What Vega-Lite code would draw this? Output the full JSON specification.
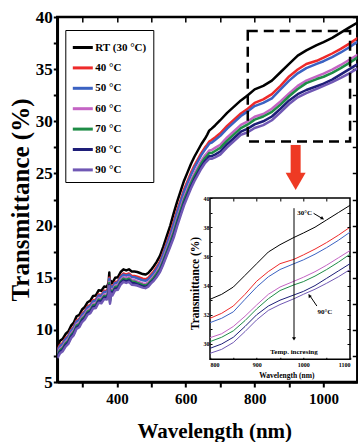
{
  "$schema": "https://vega.github.io/schema/vega-lite/v6.json",
  "width": 300,
  "height": 365,
  "autosize": {"type": "none"},
  "padding": {"left": 57.3, "top": 17, "right": 0.7, "bottom": 60},
  "config": {
    "font": "Liberation Serif",
    "view": {"stroke": "black", "strokeWidth": 2.5},
    "axis": {"grid": false, "domainColor": "black", "tickColor": "black", "labelColor": "black", "titleColor": "black", "labelFontWeight": "bold", "titleFontWeight": "bold", "labelFont": "Liberation Serif", "titleFont": "Liberation Serif"}
  },
  "datasets": {
    "curves": [
      {"wl":227,"RT (30 °C)":8.5,"40 °C":8.1,"50 °C":8.0,"60 °C":7.75,"70 °C":7.6,"80 °C":7.45,"90 °C":7.3},
      {"wl":235,"RT (30 °C)":8.95,"40 °C":8.55,"50 °C":8.45,"60 °C":8.2,"70 °C":8.05,"80 °C":7.9,"90 °C":7.75},
      {"wl":243,"RT (30 °C)":9.15,"40 °C":8.75,"50 °C":8.65,"60 °C":8.4,"70 °C":8.25,"80 °C":8.1,"90 °C":7.95},
      {"wl":251,"RT (30 °C)":9.6,"40 °C":9.2,"50 °C":9.1,"60 °C":8.85,"70 °C":8.7,"80 °C":8.55,"90 °C":8.4},
      {"wl":259,"RT (30 °C)":9.85,"40 °C":9.45,"50 °C":9.35,"60 °C":9.1,"70 °C":8.95,"80 °C":8.8,"90 °C":8.65},
      {"wl":267,"RT (30 °C)":10.4,"40 °C":10.0,"50 °C":9.9,"60 °C":9.65,"70 °C":9.5,"80 °C":9.35,"90 °C":9.2},
      {"wl":275,"RT (30 °C)":10.7,"40 °C":10.3,"50 °C":10.2,"60 °C":9.95,"70 °C":9.8,"80 °C":9.65,"90 °C":9.5},
      {"wl":283,"RT (30 °C)":11.3,"40 °C":10.9,"50 °C":10.8,"60 °C":10.55,"70 °C":10.4,"80 °C":10.25,"90 °C":10.1},
      {"wl":291,"RT (30 °C)":11.45,"40 °C":11.05,"50 °C":10.95,"60 °C":10.7,"70 °C":10.55,"80 °C":10.4,"90 °C":10.25},
      {"wl":299,"RT (30 °C)":11.95,"40 °C":11.55,"50 °C":11.45,"60 °C":11.2,"70 °C":11.05,"80 °C":10.9,"90 °C":10.75},
      {"wl":307,"RT (30 °C)":12.2,"40 °C":11.8,"50 °C":11.7,"60 °C":11.45,"70 °C":11.3,"80 °C":11.15,"90 °C":11.0},
      {"wl":315,"RT (30 °C)":12.65,"40 °C":12.25,"50 °C":12.15,"60 °C":11.9,"70 °C":11.75,"80 °C":11.6,"90 °C":11.45},
      {"wl":323,"RT (30 °C)":12.8,"40 °C":12.4,"50 °C":12.3,"60 °C":12.05,"70 °C":11.9,"80 °C":11.75,"90 °C":11.6},
      {"wl":331,"RT (30 °C)":13.25,"40 °C":12.85,"50 °C":12.75,"60 °C":12.5,"70 °C":12.35,"80 °C":12.2,"90 °C":12.05},
      {"wl":339,"RT (30 °C)":13.3,"40 °C":12.9,"50 °C":12.8,"60 °C":12.55,"70 °C":12.4,"80 °C":12.25,"90 °C":12.1},
      {"wl":347,"RT (30 °C)":13.8,"40 °C":13.4,"50 °C":13.3,"60 °C":13.05,"70 °C":12.9,"80 °C":12.75,"90 °C":12.6},
      {"wl":355,"RT (30 °C)":13.75,"40 °C":13.35,"50 °C":13.25,"60 °C":13.0,"70 °C":12.85,"80 °C":12.7,"90 °C":12.55},
      {"wl":363,"RT (30 °C)":14.15,"40 °C":13.75,"50 °C":13.65,"60 °C":13.4,"70 °C":13.25,"80 °C":13.1,"90 °C":12.95},
      {"wl":371,"RT (30 °C)":14.1,"40 °C":13.7,"50 °C":13.6,"60 °C":13.35,"70 °C":13.2,"80 °C":13.05,"90 °C":12.9},
      {"wl":376,"RT (30 °C)":14.55,"40 °C":14.15,"50 °C":14.05,"60 °C":13.8,"70 °C":13.65,"80 °C":13.5,"90 °C":13.35},
      {"wl":378,"RT (30 °C)":15.5,"40 °C":15.0,"50 °C":14.9,"60 °C":14.6,"70 °C":14.5,"80 °C":14.3,"90 °C":14.2},
      {"wl":380,"RT (30 °C)":13.7,"40 °C":13.3,"50 °C":13.2,"60 °C":12.95,"70 °C":12.8,"80 °C":12.65,"90 °C":12.5},
      {"wl":382,"RT (30 °C)":14.7,"40 °C":14.3,"50 °C":14.2,"60 °C":13.95,"70 °C":13.8,"80 °C":13.65,"90 °C":13.5},
      {"wl":387,"RT (30 °C)":14.5,"40 °C":14.1,"50 °C":14.0,"60 °C":13.75,"70 °C":13.6,"80 °C":13.45,"90 °C":13.3},
      {"wl":395,"RT (30 °C)":15.0,"40 °C":14.6,"50 °C":14.5,"60 °C":14.25,"70 °C":14.1,"80 °C":13.95,"90 °C":13.8},
      {"wl":403,"RT (30 °C)":15.05,"40 °C":14.65,"50 °C":14.55,"60 °C":14.3,"70 °C":14.15,"80 °C":14.0,"90 °C":13.85},
      {"wl":411,"RT (30 °C)":15.55,"40 °C":15.15,"50 °C":15.05,"60 °C":14.8,"70 °C":14.65,"80 °C":14.5,"90 °C":14.35},
      {"wl":419,"RT (30 °C)":15.8,"40 °C":15.4,"50 °C":15.3,"60 °C":15.05,"70 °C":14.9,"80 °C":14.75,"90 °C":14.6},
      {"wl":427,"RT (30 °C)":15.7,"40 °C":15.3,"50 °C":15.2,"60 °C":14.95,"70 °C":14.8,"80 °C":14.65,"90 °C":14.5},
      {"wl":435,"RT (30 °C)":15.8,"40 °C":15.4,"50 °C":15.3,"60 °C":15.05,"70 °C":14.9,"80 °C":14.75,"90 °C":14.6},
      {"wl":443,"RT (30 °C)":15.6,"40 °C":15.18,"50 °C":15.07,"60 °C":14.8,"70 °C":14.64,"80 °C":14.48,"90 °C":14.33},
      {"wl":451,"RT (30 °C)":15.6,"40 °C":15.17,"50 °C":15.05,"60 °C":14.78,"70 °C":14.62,"80 °C":14.46,"90 °C":14.31},
      {"wl":459,"RT (30 °C)":15.55,"40 °C":15.1,"50 °C":14.95,"60 °C":14.65,"70 °C":14.5,"80 °C":14.35,"90 °C":14.25},
      {"wl":467,"RT (30 °C)":15.45,"40 °C":15.0,"50 °C":14.85,"60 °C":14.55,"70 °C":14.4,"80 °C":14.25,"90 °C":14.15},
      {"wl":475,"RT (30 °C)":15.35,"40 °C":14.9,"50 °C":14.75,"60 °C":14.45,"70 °C":14.3,"80 °C":14.15,"90 °C":14.05},
      {"wl":483,"RT (30 °C)":15.3,"40 °C":14.85,"50 °C":14.7,"60 °C":14.4,"70 °C":14.25,"80 °C":14.1,"90 °C":14.0},
      {"wl":491,"RT (30 °C)":15.45,"40 °C":15.0,"50 °C":14.85,"60 °C":14.55,"70 °C":14.4,"80 °C":14.25,"90 °C":14.15},
      {"wl":499,"RT (30 °C)":15.75,"40 °C":15.3,"50 °C":15.15,"60 °C":14.85,"70 °C":14.7,"80 °C":14.55,"90 °C":14.45},
      {"wl":507,"RT (30 °C)":16.1,"40 °C":15.6,"50 °C":15.45,"60 °C":15.15,"70 °C":15.0,"80 °C":14.8,"90 °C":14.7},
      {"wl":515,"RT (30 °C)":16.5,"40 °C":16.0,"50 °C":15.85,"60 °C":15.5,"70 °C":15.35,"80 °C":15.15,"90 °C":15.05},
      {"wl":525,"RT (30 °C)":17.1,"40 °C":16.55,"50 °C":16.4,"60 °C":16.05,"70 °C":15.85,"80 °C":15.65,"90 °C":15.55},
      {"wl":535,"RT (30 °C)":18.0,"40 °C":17.4,"50 °C":17.25,"60 °C":16.85,"70 °C":16.65,"80 °C":16.45,"90 °C":16.3},
      {"wl":545,"RT (30 °C)":19.0,"40 °C":18.35,"50 °C":18.2,"60 °C":17.75,"70 °C":17.55,"80 °C":17.3,"90 °C":17.15},
      {"wl":555,"RT (30 °C)":20.0,"40 °C":19.3,"50 °C":19.1,"60 °C":18.65,"70 °C":18.4,"80 °C":18.15,"90 °C":18.0},
      {"wl":565,"RT (30 °C)":21.2,"40 °C":20.35,"50 °C":20.15,"60 °C":19.6,"70 °C":19.35,"80 °C":19.05,"90 °C":18.85},
      {"wl":575,"RT (30 °C)":22.3,"40 °C":21.45,"50 °C":21.25,"60 °C":20.7,"70 °C":20.45,"80 °C":20.15,"90 °C":19.95},
      {"wl":585,"RT (30 °C)":23.3,"40 °C":22.45,"50 °C":22.25,"60 °C":21.7,"70 °C":21.45,"80 °C":21.15,"90 °C":20.95},
      {"wl":595,"RT (30 °C)":24.3,"40 °C":23.45,"50 °C":23.25,"60 °C":22.7,"70 °C":22.45,"80 °C":22.15,"90 °C":21.95},
      {"wl":605,"RT (30 °C)":25.1,"40 °C":24.25,"50 °C":24.05,"60 °C":23.5,"70 °C":23.25,"80 °C":22.95,"90 °C":22.75},
      {"wl":615,"RT (30 °C)":25.9,"40 °C":25.05,"50 °C":24.85,"60 °C":24.3,"70 °C":24.05,"80 °C":23.75,"90 °C":23.55},
      {"wl":625,"RT (30 °C)":26.6,"40 °C":25.75,"50 °C":25.55,"60 °C":25.0,"70 °C":24.75,"80 °C":24.45,"90 °C":24.25},
      {"wl":635,"RT (30 °C)":27.2,"40 °C":26.35,"50 °C":26.15,"60 °C":25.6,"70 °C":25.35,"80 °C":25.05,"90 °C":24.85},
      {"wl":645,"RT (30 °C)":27.8,"40 °C":26.95,"50 °C":26.75,"60 °C":26.2,"70 °C":25.95,"80 °C":25.65,"90 °C":25.45},
      {"wl":655,"RT (30 °C)":28.3,"40 °C":27.45,"50 °C":27.25,"60 °C":26.7,"70 °C":26.45,"80 °C":26.15,"90 °C":25.95},
      {"wl":662,"RT (30 °C)":28.7,"40 °C":27.75,"50 °C":27.55,"60 °C":26.95,"70 °C":26.7,"80 °C":26.4,"90 °C":26.2},
      {"wl":668,"RT (30 °C)":29.1,"40 °C":28.05,"50 °C":27.85,"60 °C":27.2,"70 °C":26.95,"80 °C":26.65,"90 °C":26.4},
      {"wl":675,"RT (30 °C)":29.3,"40 °C":28.2,"50 °C":27.95,"60 °C":27.25,"70 °C":26.95,"80 °C":26.65,"90 °C":26.4},
      {"wl":685,"RT (30 °C)":29.6,"40 °C":28.45,"50 °C":28.2,"60 °C":27.45,"70 °C":27.15,"80 °C":26.8,"90 °C":26.55},
      {"wl":700,"RT (30 °C)":30.1,"40 °C":28.85,"50 °C":28.6,"60 °C":27.75,"70 °C":27.45,"80 °C":27.1,"90 °C":26.8},
      {"wl":720,"RT (30 °C)":30.8,"40 °C":29.55,"50 °C":29.3,"60 °C":28.45,"70 °C":28.15,"80 °C":27.8,"90 °C":27.5},
      {"wl":740,"RT (30 °C)":31.4,"40 °C":30.15,"50 °C":29.9,"60 °C":29.05,"70 °C":28.75,"80 °C":28.4,"90 °C":28.1},
      {"wl":760,"RT (30 °C)":32.0,"40 °C":30.75,"50 °C":30.5,"60 °C":29.65,"70 °C":29.35,"80 °C":29.0,"90 °C":28.7},
      {"wl":780,"RT (30 °C)":32.5,"40 °C":31.2,"50 °C":30.95,"60 °C":30.0,"70 °C":29.7,"80 °C":29.3,"90 °C":28.95},
      {"wl":800,"RT (30 °C)":33.06,"40 °C":31.76,"50 °C":31.46,"60 °C":30.43,"70 °C":30.16,"80 °C":29.7,"90 °C":29.36},
      {"wl":825,"RT (30 °C)":33.4,"40 °C":32.1,"50 °C":31.76,"60 °C":30.7,"70 °C":30.46,"80 °C":30.0,"90 °C":29.63},
      {"wl":850,"RT (30 °C)":33.9,"40 °C":32.6,"50 °C":32.2,"60 °C":31.2,"70 °C":30.9,"80 °C":30.46,"90 °C":30.1},
      {"wl":875,"RT (30 °C)":34.7,"40 °C":33.4,"50 °C":33.06,"60 °C":31.9,"70 °C":31.6,"80 °C":31.2,"90 °C":30.85},
      {"wl":900,"RT (30 °C)":35.5,"40 °C":34.3,"50 °C":33.9,"60 °C":32.67,"70 °C":32.4,"80 °C":32.0,"90 °C":31.65},
      {"wl":925,"RT (30 °C)":36.3,"40 °C":34.96,"50 °C":34.6,"60 °C":33.4,"70 °C":33.1,"80 °C":32.6,"90 °C":32.3},
      {"wl":950,"RT (30 °C)":36.8,"40 °C":35.5,"50 °C":35.1,"60 °C":33.9,"70 °C":33.66,"80 °C":33.0,"90 °C":32.7},
      {"wl":980,"RT (30 °C)":37.3,"40 °C":35.8,"50 °C":35.5,"60 °C":34.3,"70 °C":34.05,"80 °C":33.36,"90 °C":33.1},
      {"wl":1000,"RT (30 °C)":37.6,"40 °C":36.1,"50 °C":35.76,"60 °C":34.57,"70 °C":34.27,"80 °C":33.6,"90 °C":33.4},
      {"wl":1025,"RT (30 °C)":38.0,"40 °C":36.5,"50 °C":36.15,"60 °C":34.95,"70 °C":34.65,"80 °C":34.0,"90 °C":33.75},
      {"wl":1050,"RT (30 °C)":38.5,"40 °C":36.95,"50 °C":36.6,"60 °C":35.4,"70 °C":35.1,"80 °C":34.5,"90 °C":34.16},
      {"wl":1075,"RT (30 °C)":39.0,"40 °C":37.45,"50 °C":37.1,"60 °C":35.9,"70 °C":35.6,"80 °C":35.0,"90 °C":34.6},
      {"wl":1100,"RT (30 °C)":39.5,"40 °C":38.0,"50 °C":37.66,"60 °C":36.4,"70 °C":36.15,"80 °C":35.5,"90 °C":35.1}
    ]
  },
  "layer": [
    {
      "layer": [
        {
          "data": {"name": "curves"},
          "transform": [{"fold": ["RT (30 °C)", "40 °C", "50 °C", "60 °C", "70 °C", "80 °C", "90 °C"], "as": ["series", "T"]}],
          "mark": {"type": "line", "strokeWidth": 2.5, "clip": true, "strokeJoin": "round"},
          "encoding": {
            "x": {"field": "wl", "type": "quantitative", "scale": {"domain": [227, 1098], "nice": false, "zero": false},
              "axis": {"orient": "bottom", "values": [300, 400, 500, 600, 700, 800, 900, 1000], "format": "d", "labelExpr": "datum.value % 200 === 0 ? datum.label : ''", "labelFontSize": 15, "tickSize": 5, "tickWidth": 2, "domainWidth": 2.5, "labelPadding": 4, "title": "Wavelength (nm)", "titleFontSize": 21, "titleX": 157, "titleY": 55, "titleBaseline": "alphabetic"}},
            "y": {"field": "T", "type": "quantitative", "scale": {"domain": [5, 40], "nice": false, "zero": false},
              "axis": {"orient": "left", "values": [5, 7.5, 10, 12.5, 15, 17.5, 20, 22.5, 25, 27.5, 30, 32.5, 35, 37.5, 40], "labelExpr": "datum.value % 5 === 0 ? datum.label : ''", "labelFontSize": 17, "tickSize": 4, "tickWidth": 2, "domainWidth": 2.5, "labelPadding": 1, "title": "Transmittance (%)", "titleFontSize": 25, "titleX": -37, "titleY": 182.5, "titleAngle": 270, "titleBaseline": "middle", "titleAlign": "center"}},
            "color": {"field": "series", "type": "nominal",
              "scale": {"domain": ["RT (30 °C)", "40 °C", "50 °C", "60 °C", "70 °C", "80 °C", "90 °C"], "range": ["#000000", "#ee2a2a", "#3b62c2", "#c464c4", "#1e8c46", "#1e1e78", "#7058b4"]},
              "legend": {"orient": "none", "legendX": 8, "legendY": 13, "title": null, "strokeColor": "black", "fillColor": "white", "padding": 6, "symbolType": "stroke", "symbolSize": 400, "symbolStrokeWidth": 3, "labelFont": "Liberation Serif", "labelFontWeight": "bold", "labelFontSize": 11, "labelOffset": 1, "rowPadding": 2.4, "labelColor": "black"}}
          }
        },
        {
          "data": {"values": [{"x1": 780, "x2": 1077, "y1": 28.05, "y2": 38.66}]},
          "mark": {"type": "rect", "fillOpacity": 0, "stroke": "black", "strokeWidth": 2.5, "strokeDash": [10, 6]},
          "encoding": {
            "x": {"field": "x1", "type": "quantitative", "axis": {"orient": "top", "values": [300, 400, 500, 600, 700, 800, 900, 1000], "labels": false, "domain": false, "title": null, "offset": -5, "tickSize": 5, "tickWidth": 1.5}},
            "x2": {"field": "x2"},
            "y": {"field": "y1", "type": "quantitative", "axis": {"orient": "right", "values": [5, 7.5, 10, 12.5, 15, 17.5, 20, 22.5, 25, 27.5, 30, 32.5, 35, 37.5, 40], "labels": false, "domain": false, "title": null, "offset": -5, "tickSize": 5, "tickWidth": 1.5}},
            "y2": {"field": "y2"}
          }
        },
        {
          "data": {"values": [{"wl": 919, "T": 27.73, "T2": 24.66}]},
          "mark": {"type": "rule", "strokeWidth": 10, "color": "#ee3a24"},
          "encoding": {
            "x": {"field": "wl", "type": "quantitative", "axis": null},
            "y": {"field": "T", "type": "quantitative", "axis": null},
            "y2": {"field": "T2"}
          }
        },
        {
          "data": {"values": [{"wl": 919, "T": 24.23}]},
          "mark": {"type": "point", "shape": "triangle-down", "size": 400, "filled": true, "opacity": 1, "color": "#ee3a24"},
          "encoding": {
            "x": {"field": "wl", "type": "quantitative", "axis": null},
            "y": {"field": "T", "type": "quantitative", "axis": null}
          }
        }
      ],
      "resolve": {"axis": {"x": "independent", "y": "independent"}}
    },
    {
      "layer": [
        {
          "data": {"values": [{"x1": 800, "x2": 1100, "y1": 28.95, "y2": 40}]},
          "mark": {"type": "rect", "fill": "white", "stroke": "black", "strokeWidth": 1.5},
          "encoding": {
            "x": {"field": "x1", "type": "quantitative", "scale": {"domain": [800, 1100], "range": [152.7, 292.7], "nice": false, "zero": false},
              "axis": {"orient": "top", "values": [850, 900, 950, 1000, 1050], "labels": false, "domain": false, "title": null, "offset": -184, "tickSize": 3, "tickWidth": 1, "zindex": 1}},
            "x2": {"field": "x2"},
            "y": {"field": "y1", "type": "quantitative", "scale": {"domain": [28.95, 40], "range": [342.3, 181], "nice": false, "zero": false},
              "axis": {"orient": "right", "values": [30, 31, 32, 33, 34, 35, 36, 37, 38, 39], "labels": false, "domain": false, "title": null, "offset": -10.3, "tickSize": 3, "tickWidth": 1, "zindex": 1}},
            "y2": {"field": "y2"}
          }
        },
        {
          "data": {"name": "curves"},
          "transform": [{"filter": "datum.wl >= 800"}, {"fold": ["RT (30 °C)", "40 °C", "50 °C", "60 °C", "70 °C", "80 °C", "90 °C"], "as": ["series", "T"]}],
          "mark": {"type": "line", "strokeWidth": 1},
          "encoding": {
            "x": {"field": "wl", "type": "quantitative",
              "axis": {"orient": "bottom", "offset": -24.7, "values": [800, 850, 900, 950, 1000, 1050, 1100], "format": "d", "labelExpr": "datum.value % 100 === 0 ? datum.label : ''", "labelFontSize": 6, "tickSize": 2, "tickWidth": 1, "domain": false, "labelPadding": 2, "title": "Wavelength (nm)", "titleFontSize": 7.5, "titleX": 229, "titleY": 17.7, "titleBaseline": "middle", "zindex": 1}},
            "y": {"field": "T", "type": "quantitative",
              "axis": {"orient": "left", "offset": -154.7, "values": [30, 31, 32, 33, 34, 35, 36, 37, 38, 39, 40], "labelExpr": "datum.value % 2 === 0 ? datum.label : ''", "labelFontSize": 6, "tickSize": 2, "tickWidth": 1, "domain": false, "labelPadding": 1, "title": "Transmittance (%)", "titleFontSize": 11.5, "titleX": -17, "titleY": 266, "titleAngle": 270, "titleBaseline": "middle", "titleAlign": "center", "zindex": 1}},
            "color": {"field": "series", "type": "nominal"}
          }
        },
        {
          "data": {"values": [{"wl": 1022, "T": 38.95, "wl2": 1043, "T2": 38.55}, {"wl": 1029, "T": 32.6, "wl2": 1012, "T2": 33.4}, {"wl": 980, "T": 39.3, "wl2": 980, "T2": 30.4}]},
          "mark": {"type": "rule", "strokeWidth": 1, "color": "black"},
          "encoding": {
            "x": {"field": "wl", "type": "quantitative", "axis": null},
            "x2": {"field": "wl2"},
            "y": {"field": "T", "type": "quantitative", "axis": null},
            "y2": {"field": "T2"}
          }
        },
        {
          "data": {"values": [{"wl": 980, "T": 30.35}]},
          "mark": {"type": "point", "shape": "triangle-down", "size": 16, "filled": true, "opacity": 1, "color": "black"},
          "encoding": {
            "x": {"field": "wl", "type": "quantitative", "axis": null},
            "y": {"field": "T", "type": "quantitative", "axis": null}
          }
        },
        {
          "data": {"values": [{"wl": 1041, "T": 38.6}]},
          "mark": {"type": "point", "shape": "triangle-right", "angle": 30, "size": 14, "filled": true, "opacity": 1, "color": "black"},
          "encoding": {
            "x": {"field": "wl", "type": "quantitative", "axis": null},
            "y": {"field": "T", "type": "quantitative", "axis": null}
          }
        },
        {
          "data": {"values": [{"wl": 1013, "T": 33.3}]},
          "mark": {"type": "point", "shape": "triangle-right", "angle": 236, "size": 14, "filled": true, "opacity": 1, "color": "black"},
          "encoding": {
            "x": {"field": "wl", "type": "quantitative", "axis": null},
            "y": {"field": "T", "type": "quantitative", "axis": null}
          }
        },
        {
          "data": {"values": [{"wl": 1003, "T": 39.0, "label": "30°C"}, {"wl": 1046, "T": 32.17, "label": "90°C"}, {"wl": 980, "T": 29.45, "label": "Temp. incresing"}]},
          "mark": {"type": "text", "font": "Liberation Serif", "fontWeight": "bold", "fontSize": 7, "align": "center", "baseline": "middle", "color": "black"},
          "encoding": {
            "x": {"field": "wl", "type": "quantitative", "axis": null},
            "y": {"field": "T", "type": "quantitative", "axis": null},
            "text": {"field": "label"}
          }
        }
      ],
      "resolve": {"axis": {"x": "independent", "y": "independent"}}
    }
  ],
  "resolve": {"scale": {"x": "independent", "y": "independent"}}
}
